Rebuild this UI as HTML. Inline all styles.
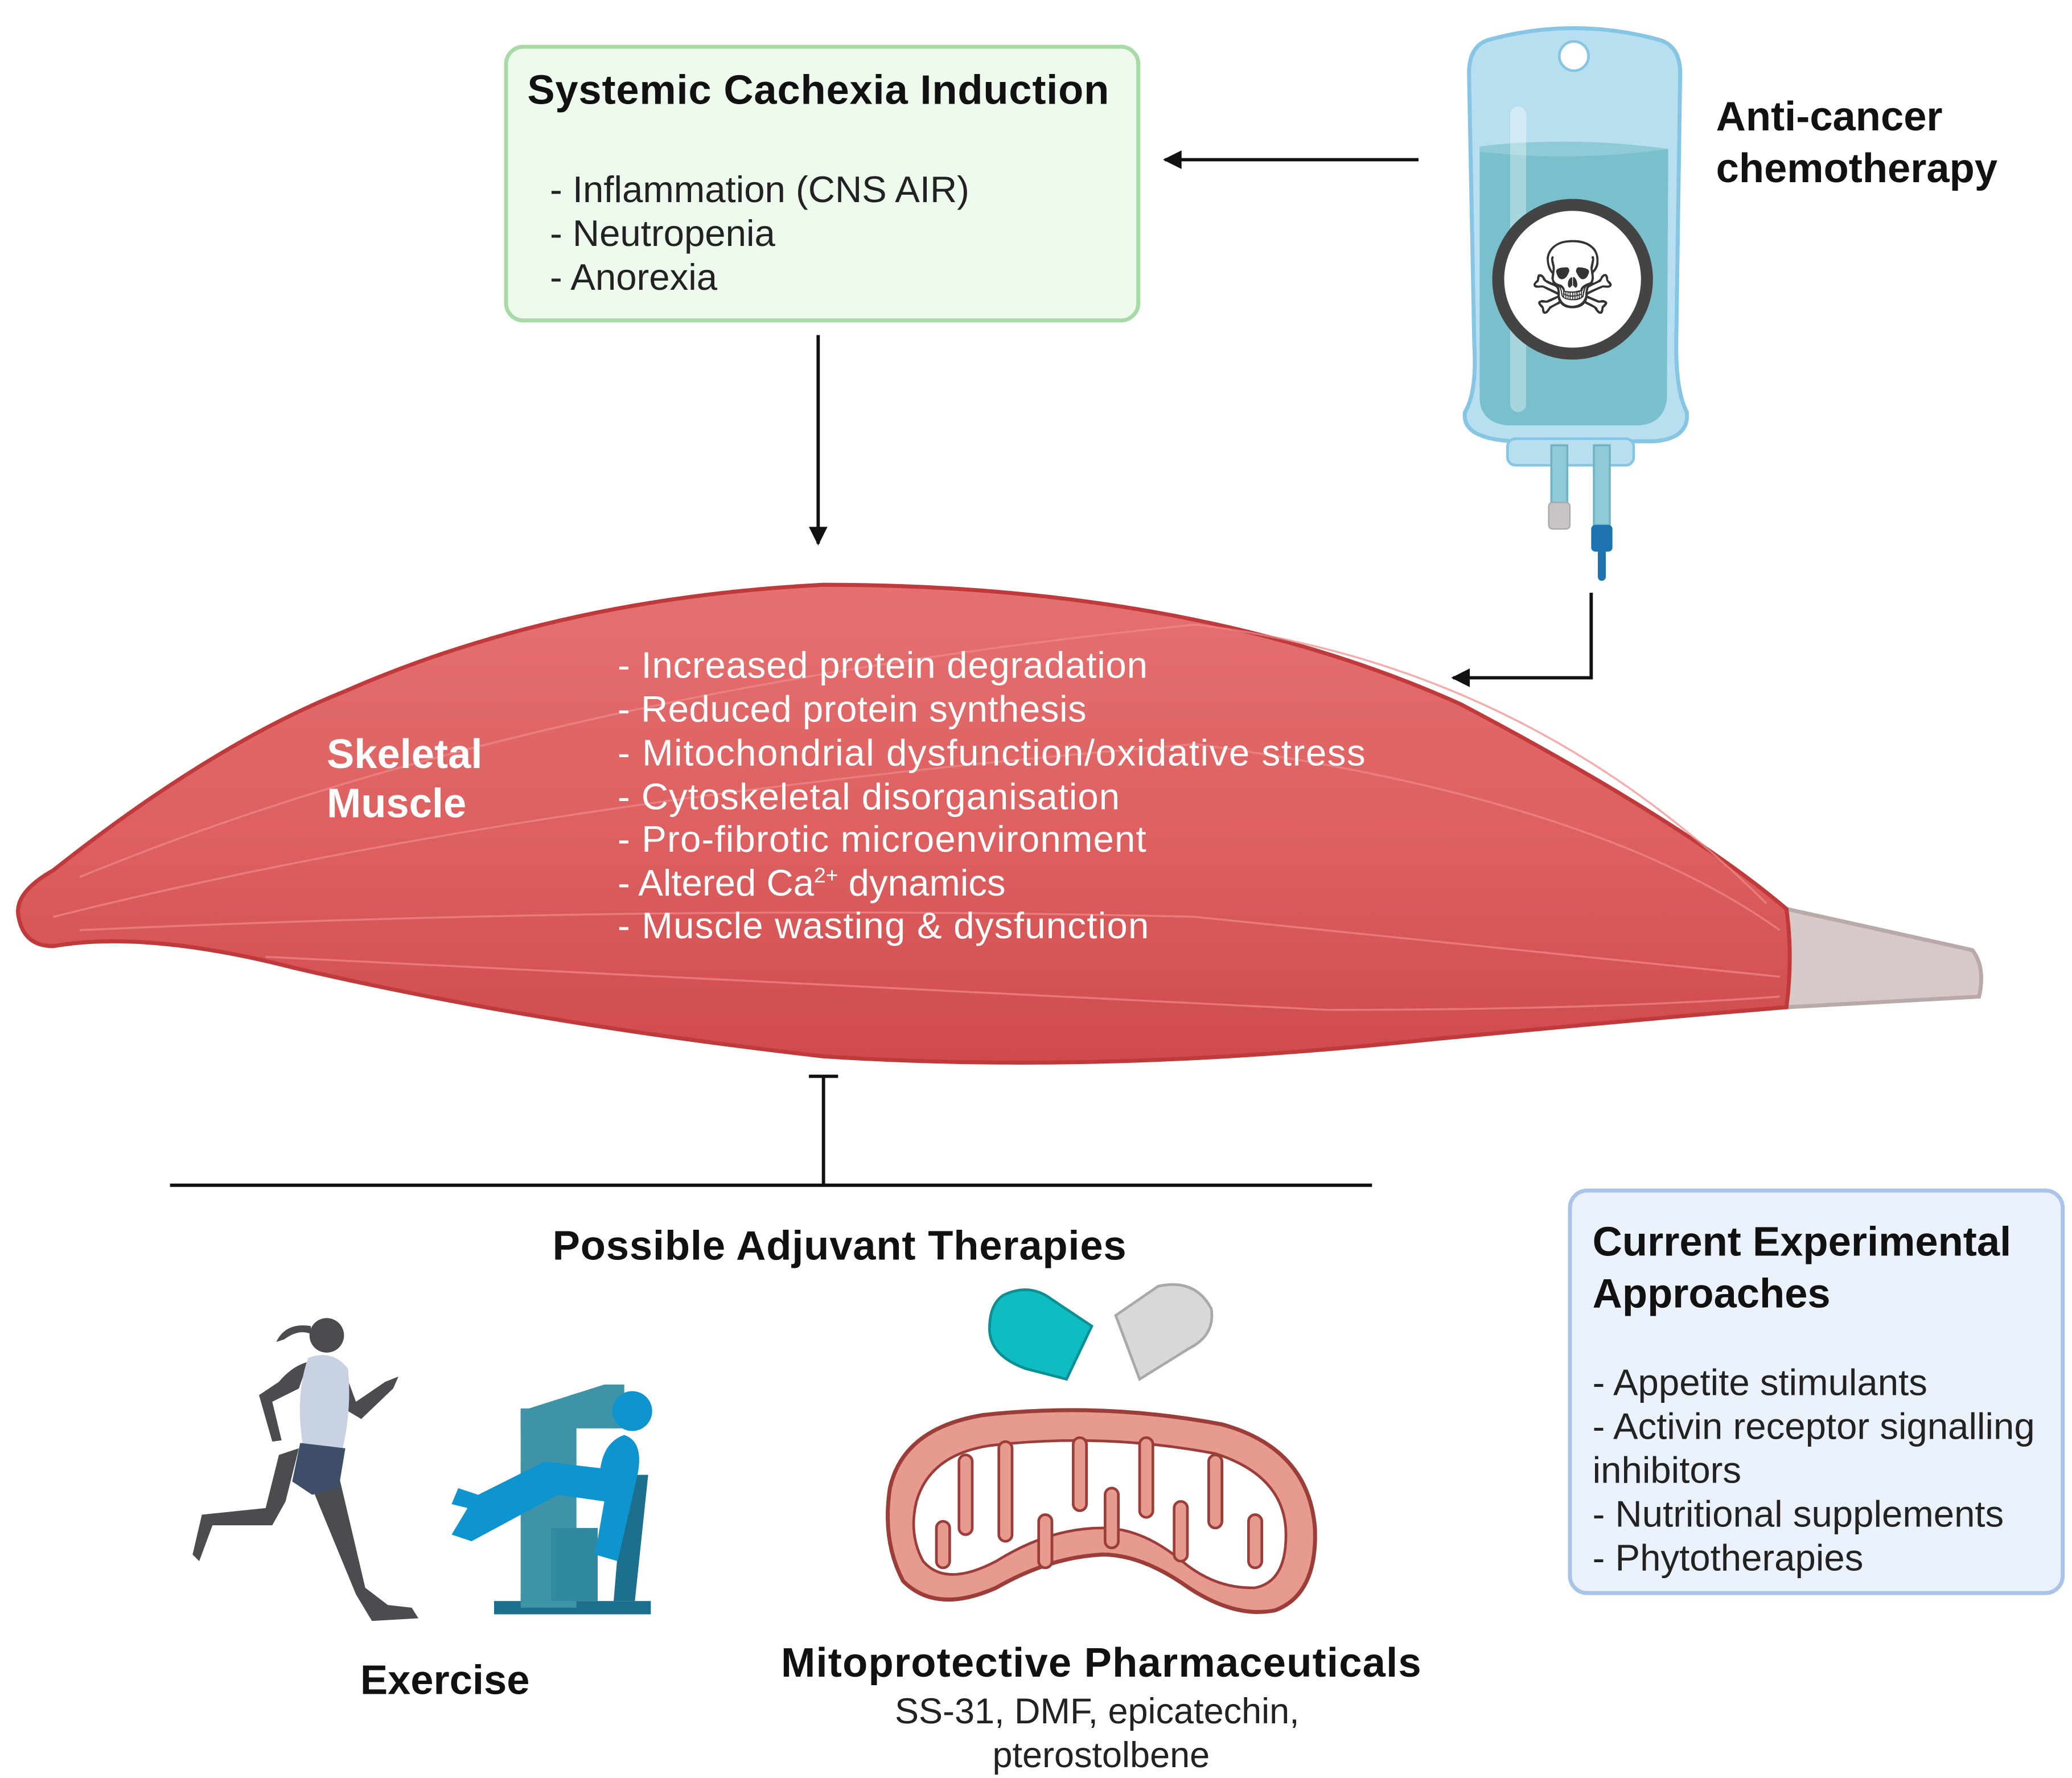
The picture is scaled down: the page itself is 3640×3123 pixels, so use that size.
<!DOCTYPE html>
<html><head><meta charset="utf-8"><style>
html,body{margin:0;padding:0;background:#fff;}
svg{display:block;}
text{font-family:"Liberation Sans",sans-serif;}
.b{font-weight:bold;}
</style></head><body>
<svg width="3640" height="3123" viewBox="0 0 1560 1338" xmlns="http://www.w3.org/2000/svg">
<defs>
<marker id="ah2" viewBox="0 0 10 10" markerWidth="18" markerHeight="14" refX="9" refY="5" orient="auto" markerUnits="userSpaceOnUse"><path d="M0,0 L10,5 L0,10 z" fill="#111"/></marker>
<linearGradient id="mg" x1="0" y1="0" x2="0" y2="1"><stop offset="0" stop-color="#e57070"/><stop offset="0.55" stop-color="#dd5f5f"/><stop offset="1" stop-color="#cf4a4c"/></linearGradient>
</defs>

<rect x="381" y="35" width="476" height="206" rx="13" fill="#effaef" stroke="#a6dba6" stroke-width="3"/>
<text x="397" y="78" class="b" font-size="31" fill="#111" textLength="438">Systemic Cachexia Induction</text>
<text font-size="28" fill="#222"><tspan x="414" y="152">- Inflammation (CNS AIR)</tspan><tspan x="414" y="185">- Neutropenia</tspan><tspan x="414" y="218">- Anorexia</tspan></text>

<line x1="1068" y1="120" x2="877" y2="120" stroke="#111" stroke-width="2.5" marker-end="url(#ah2)"/>
<line x1="616" y1="252" x2="616" y2="409" stroke="#111" stroke-width="2.5" marker-end="url(#ah2)"/>
<polyline points="1198,446 1198,510 1094,510" fill="none" stroke="#111" stroke-width="2.5" marker-end="url(#ah2)"/>

<!-- IV bag -->
<path d="M1120,30 Q1185,12 1250,30 Q1265,35 1265,55 L1262,260 Q1262,295 1270,310 Q1272,330 1245,332 L1140,332 Q1100,330 1103,310 Q1112,295 1110,260 L1106,55 Q1106,35 1120,30 z" fill="#b8dff0" stroke="#86c6e4" stroke-width="3"/>
<path d="M1114,110 Q1185,102 1256,112 L1255,300 Q1253,318 1235,320 L1135,320 Q1115,318 1114,300 z" fill="#79bfcc"/>
<path d="M1114,110 Q1185,102 1256,112 Q1185,122 1114,114 z" fill="#8ecbd6"/>
<rect x="1137" y="80" width="12" height="230" rx="6" fill="#ffffff" opacity="0.35"/>
<circle cx="1185" cy="42" r="11" fill="#fff" stroke="#86c6e4" stroke-width="2"/>
<rect x="1135" y="330" width="95" height="20" rx="6" fill="#b8dff0" stroke="#86c6e4" stroke-width="2"/>
<rect x="1168" y="335" width="12" height="45" fill="#8fcad6" stroke="#6fb3c2" stroke-width="1.5"/>
<rect x="1200" y="335" width="12" height="60" fill="#8fcad6" stroke="#6fb3c2" stroke-width="1.5"/>
<rect x="1166" y="378" width="16" height="20" rx="3" fill="#c8c4c4" stroke="#aaa" stroke-width="1"/>
<rect x="1198" y="395" width="16" height="20" rx="3" fill="#1d73b0"/>
<rect x="1203" y="413" width="6" height="24" rx="3" fill="#1d73b0"/>
<circle cx="1184" cy="210" r="56" fill="#fff" stroke="#444" stroke-width="9"/>
<text x="1184" y="236" font-size="76" text-anchor="middle" fill="#333">☠</text>
<text class="b" font-size="31" fill="#111"><tspan x="1292" y="98">Anti-cancer</tspan><tspan x="1292" y="137">chemotherapy</tspan></text>

<!-- Muscle -->
<path d="M1345,684 L1485,715 Q1495,728 1490,750 L1345,758 z" fill="#d8c8c8" stroke="#b9a9a9" stroke-width="3"/>
<path d="M14,690 Q10,672 40,655 Q160,560 260,520 Q420,450 620,440 Q900,440 1100,530 Q1270,620 1345,684 Q1350,720 1345,758 Q1200,770 1050,785 Q820,808 620,795 Q400,770 220,728 Q110,700 40,712 Q18,712 14,690 z" fill="url(#mg)" stroke="#c03a3c" stroke-width="3"/>
<g fill="none" stroke="#f08a8a" stroke-width="1.5" opacity="0.7">
<path d="M60,660 Q400,520 900,470 Q1150,500 1330,680"/>
<path d="M40,690 Q400,600 900,560 Q1200,600 1340,700"/>
<path d="M60,700 Q500,680 900,690 Q1200,720 1340,735"/>
<path d="M200,720 Q600,740 1000,760 Q1200,760 1340,750"/>
</g>
<text class="b" font-size="31" fill="#fff"><tspan x="246" y="578">Skeletal</tspan><tspan x="246" y="615">Muscle</tspan></text>
<g font-size="28" fill="#fff">
<text x="465" y="510" textLength="399">- Increased protein degradation</text>
<text x="465" y="543" textLength="353">- Reduced protein synthesis</text>
<text x="465" y="576" textLength="563">- Mitochondrial dysfunction/oxidative stress</text>
<text x="465" y="609" textLength="378">- Cytoskeletal disorganisation</text>
<text x="465" y="641" textLength="398">- Pro-fibrotic microenvironment</text>
<text x="465" y="674">- Altered Ca<tspan font-size="16" dy="-10">2+</tspan><tspan dy="10"> dynamics</tspan></text>
<text x="465" y="706" textLength="400">- Muscle wasting &amp; dysfunction</text>
</g>

<line x1="620" y1="810" x2="620" y2="892" stroke="#111" stroke-width="2.5"/>
<line x1="609" y1="810" x2="631" y2="810" stroke="#111" stroke-width="2.5"/>
<line x1="128" y1="892" x2="1033" y2="892" stroke="#111" stroke-width="2.5"/>
<text x="632" y="948" class="b" font-size="31" text-anchor="middle" fill="#111" textLength="432">Possible Adjuvant Therapies</text>

<rect x="1182" y="896" width="371" height="303" rx="13" fill="#eaf1fb" stroke="#a9c4e8" stroke-width="3"/>
<text class="b" font-size="31" fill="#111"><tspan x="1199" y="945">Current Experimental</tspan><tspan x="1199" y="984">Approaches</tspan></text>
<text font-size="28" fill="#222"><tspan x="1199" y="1050">- Appetite stimulants</tspan><tspan x="1199" y="1083">- Activin receptor signalling</tspan><tspan x="1199" y="1116">inhibitors</tspan><tspan x="1199" y="1149">- Nutritional supplements</tspan><tspan x="1199" y="1182">- Phytotherapies</tspan></text>

<!-- runner -->
<g fill="#4a4c50">
<circle cx="246" cy="1005" r="13"/>
<path d="M234,998 Q215,995 208,1010 L214,1008 Q225,1000 234,1004z"/>
<path d="M232,1025 Q220,1028 210,1040 L195,1050 L205,1085 L212,1084 L205,1055 L225,1045z"/>
<path d="M258,1028 L268,1055 L290,1040 L300,1036 L296,1045 L272,1068 L262,1062z"/>
<path d="M225,1090 L215,1130 L205,1148 L160,1148 L150,1175 L145,1170 L152,1140 L200,1135 L210,1095z"/>
<path d="M235,1095 L255,1110 L275,1195 L292,1208 L310,1210 L315,1218 L280,1220 L268,1200 L235,1120z"/>
</g>
<path d="M232,1022 Q250,1015 262,1030 Q265,1060 258,1090 L228,1088 Q222,1050 232,1022z" fill="#c9d2e3"/>
<path d="M226,1086 L260,1090 L255,1120 L235,1125 L220,1115z" fill="#3e4e68"/>

<!-- gym machine -->
<rect x="372" y="1205" width="118" height="10" fill="#1d6f8e"/>
<rect x="392" y="1060" width="42" height="150" fill="#3e93a6"/>
<path d="M392,1062 L455,1042 L470,1042 L470,1075 L392,1075z" fill="#3e93a6"/>
<rect x="415" y="1150" width="35" height="55" fill="#2f8aa0"/>
<path d="M470,1110 L488,1110 L478,1205 L462,1205z" fill="#1d6f8e"/>
<circle cx="476" cy="1062" r="15" fill="#0e94cf"/>
<path d="M470,1080 Q485,1085 480,1110 L465,1175 L448,1170 L455,1130 L420,1125 L355,1160 L340,1155 L352,1135 L340,1132 L345,1120 L360,1125 L410,1100 L452,1105 Q455,1085 470,1080z" fill="#0e94cf"/>

<!-- pills -->
<path d="M755,975 Q775,965 792,978 L822,998 L803,1038 L772,1030 Q745,1020 745,1000 Q745,982 755,975z" fill="#0fbcc1" stroke="#0a8f94" stroke-width="2"/>
<path d="M840,990 L872,968 Q900,962 912,985 Q915,1005 895,1015 L858,1038 z" fill="#d8d8d8" stroke="#a9a9a9" stroke-width="2"/>

<!-- mitochondria -->
<path d="M670,1120 Q680,1075 740,1065 Q830,1055 920,1072 Q985,1090 990,1150 Q992,1200 960,1212 Q930,1218 895,1195 Q860,1170 830,1170 Q790,1172 750,1195 Q705,1215 680,1190 Q664,1160 670,1120z" fill="#e69a90" stroke="#9c3d3a" stroke-width="3"/>
<path d="M690,1130 Q700,1095 745,1088 Q830,1078 915,1094 Q965,1110 968,1150 Q970,1190 945,1195 Q915,1196 890,1175 Q860,1150 830,1150 Q790,1150 750,1175 Q712,1195 695,1175 Q684,1155 690,1130z" fill="#fff" stroke="#9c3d3a" stroke-width="2"/>
<g fill="#e69a90" stroke="#9c3d3a" stroke-width="2">
<rect x="722" y="1095" width="10" height="60" rx="5"/>
<rect x="752" y="1085" width="10" height="75" rx="5"/>
<rect x="782" y="1140" width="10" height="40" rx="5"/>
<rect x="808" y="1082" width="10" height="55" rx="5"/>
<rect x="832" y="1120" width="10" height="45" rx="5"/>
<rect x="858" y="1082" width="10" height="60" rx="5"/>
<rect x="884" y="1130" width="10" height="45" rx="5"/>
<rect x="910" y="1095" width="10" height="55" rx="5"/>
<rect x="940" y="1140" width="10" height="40" rx="5"/>
<rect x="705" y="1145" width="10" height="35" rx="5"/>
</g>

<text x="335" y="1275" class="b" font-size="31" text-anchor="middle" fill="#111">Exercise</text>
<text x="829" y="1262" class="b" font-size="31" text-anchor="middle" fill="#111" textLength="482">Mitoprotective Pharmaceuticals</text>
<text font-size="27" text-anchor="middle" fill="#222"><tspan x="826" y="1297">SS-31, DMF, epicatechin,</tspan><tspan x="829" y="1330">pterostolbene</tspan></text>
</svg>
</body></html>
